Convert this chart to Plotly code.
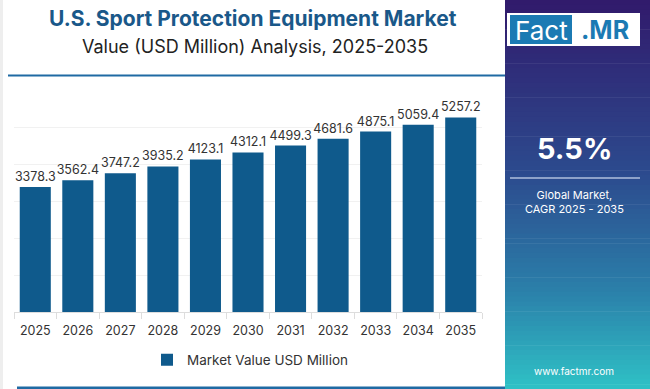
import plotly.graph_objects as go

years = ["2025", "2026", "2027", "2028", "2029", "2030", "2031", "2032", "2033", "2034", "2035"]
values = [3378.3, 3562.4, 3747.2, 3935.2, 4123.1, 4312.1, 4499.3, 4681.6, 4875.1, 5059.4, 5257.2]
series_name = "Market Value USD Million"
title_text = "U.S. Sport Protection Equipment Market"
subtitle_text = "Value (USD Million) Analysis, 2025-2035"
cagr_text = "5.5%"
cagr_caption = "Global Market,<br>CAGR 2025 - 2035"
site_text = "www.factmr.com"

W, H = 650, 389
L, R, T, B = 14, 482, 90, 312  # plot area in px

def px(x):
    return (x - L) / (R - L)

def py(y):
    return (B - y) / (B - T)

FONT = "Inter"
BAR = "#0f5a8c"

fig = go.Figure()
fig.add_trace(go.Bar(
    x=years, y=values, name=series_name,
    marker=dict(color=BAR, line=dict(width=0)),
    text=[f"{v:.1f}" for v in values], textposition="outside",
    textfont=dict(family=FONT, size=12.5, color="#333333"),
    constraintext="none", cliponaxis=False,
))

shapes = []
stops = [(0.0, (0x31, 0x1a, 0x6c)), (0.45, (0x2c, 0x4b, 0x8e)), (0.75, (0x2b, 0x80, 0xaa)), (1.0, (0x2f, 0xc2, 0xc6))]

def grad(t):
    for i in range(len(stops) - 1):
        a, ca = stops[i]
        b, cb = stops[i + 1]
        if a <= t <= b:
            f = (t - a) / (b - a)
            return "rgb(%d,%d,%d)" % tuple(round(ca[k] + (cb[k] - ca[k]) * f) for k in range(3))
    return "rgb(47,194,198)"

N = 80
for i in range(N):
    y0 = H * i / N
    y1 = H * (i + 1) / N + 0.6
    shapes.append(dict(type="rect", xref="paper", yref="paper",
                       x0=px(505), x1=px(651), y0=py(y1), y1=py(y0),
                       fillcolor=grad((i + 0.5) / N), line=dict(width=0), layer="below"))
shapes.append(dict(type="rect", xref="paper", yref="paper", x0=px(-1), x1=px(3), y0=py(390), y1=py(-1),
                   fillcolor="#eeeeee", line=dict(width=0), layer="below"))
shapes.append(dict(type="line", xref="paper", yref="paper", x0=px(8), x1=px(505), y0=py(75.5), y1=py(75.5),
                   line=dict(color="#1f6aa3", width=2)))
shapes.append(dict(type="line", xref="paper", yref="paper", x0=px(17), x1=px(505), y0=py(388), y1=py(388),
                   line=dict(color="#1f6aa3", width=3)))
shapes.append(dict(type="rect", xref="paper", yref="paper", x0=px(507), x1=px(640), y0=py(46), y1=py(13),
                   fillcolor="white", line=dict(width=0)))
shapes.append(dict(type="rect", xref="paper", yref="paper", x0=px(510), x1=px(572), y0=py(44), y1=py(15),
                   fillcolor="#1b7ab3", line=dict(width=0)))
shapes.append(dict(type="line", xref="paper", yref="paper", x0=px(510), x1=px(640), y0=py(178), y1=py(178),
                   line=dict(color="rgba(210,220,240,0.8)", width=1.5)))

annotations = [
    dict(text="<b>" + title_text + "</b>", x=px(253), y=py(18), xref="paper", yref="paper",
         showarrow=False, font=dict(family=FONT, size=21, color="#1a5889"), xanchor="center", yanchor="middle"),
    dict(text=subtitle_text, x=px(255), y=py(46), xref="paper", yref="paper",
         showarrow=False, font=dict(family=FONT, size=18, color="#222222"), xanchor="center", yanchor="middle"),
    dict(text="Fact", x=px(541), y=py(30), xref="paper", yref="paper",
         showarrow=False, font=dict(family=FONT, size=26, color="white"), xanchor="center", yanchor="middle"),
    dict(text="<b>.MR</b>", x=px(605), y=py(30), xref="paper", yref="paper",
         showarrow=False, font=dict(family=FONT, size=25, color="#1b7ab3"), xanchor="center", yanchor="middle"),
    dict(text="<b>" + cagr_text + "</b>", x=px(574), y=py(148), xref="paper", yref="paper",
         showarrow=False, font=dict(family=FONT, size=29, color="white"), xanchor="center", yanchor="middle"),
    dict(text=cagr_caption, x=px(574), y=py(202), xref="paper", yref="paper",
         showarrow=False, font=dict(family=FONT, size=11, color="white"), xanchor="center", yanchor="middle",
         align="center"),
    dict(text=site_text, x=px(574), y=py(371), xref="paper", yref="paper",
         showarrow=False, font=dict(family=FONT, size=10, color="white"), xanchor="center", yanchor="middle"),
]

fig.update_layout(
    width=W, height=H,
    margin=dict(l=L, r=W - R, t=T, b=H - B, pad=0, autoexpand=False),
    paper_bgcolor="white", plot_bgcolor="white",
    bargap=0.27,
    showlegend=True,
    legend=dict(orientation="h", x=px(250), y=py(360), xanchor="center", yanchor="middle",
                font=dict(family=FONT, size=13.5, color="#333333"), bgcolor="rgba(0,0,0,0)"),
    xaxis=dict(showgrid=False, showline=True, linecolor="#dddddd", linewidth=1,
               ticks="outside", tickson="boundaries", ticklen=6, tickcolor="#dddddd",
               tickangle=0, automargin=False, ticklabelstandoff=7,
               tickfont=dict(family=FONT, size=12.5, color="#333333")),
    yaxis=dict(range=[0, 6000], dtick=1000, showgrid=True, gridcolor="#f1f1f1", gridwidth=1,
               showticklabels=False, zeroline=False, showline=False, automargin=False),
    shapes=shapes, annotations=annotations,
    font=dict(family=FONT),
)

fig.write_html("out.html", config={"displayModeBar": False},
               post_script="document.body.style.margin='0px';document.body.style.overflow='hidden';")
